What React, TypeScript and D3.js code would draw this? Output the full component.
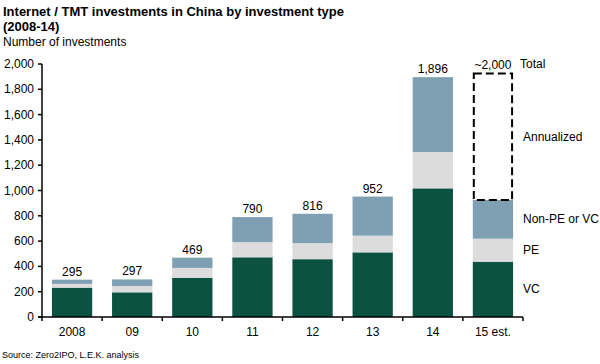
import React from 'react';
import * as d3 from 'd3';

const years = ['2008', '09', '10', '11', '12', '13', '14', '15 est.'];
const vc = [232, 195, 310, 472, 457, 511, 1017, 437];
const pe = [30, 50, 78, 120, 127, 132, 287, 182];
const nonPeVc = [33, 52, 81, 198, 232, 309, 592, 306];
const totalLabels = ['295', '297', '469', '790', '816', '952', '1,896', '~2,000'];
const annualizedTotal = 1925;
const yTicks = [0, 200, 400, 600, 800, 1000, 1200, 1400, 1600, 1800, 2000];

const colors = { vc: '#0b5240', pe: '#dcdcdc', non: '#7f9fb3' };
const font = 'Liberation Sans, Arial, sans-serif';

const App = () => {
  const width = 600;
  const height = 364;
  const left = 42;
  const right = 523;
  const top = 64;
  const bottom = 317;

  const x = d3.scaleBand<string>().domain(years).range([left, right]).paddingInner(0.33).paddingOuter(0.165);
  const y = d3.scaleLinear().domain([0, 2000]).range([bottom, top]);

  // stack the three series
  const rows = years.map((yr, i) => ({ yr, vc: vc[i], pe: pe[i], non: nonPeVc[i] }));
  const stack = d3.stack<any>().keys(['vc', 'pe', 'non'])(rows);

  const step = x.step();
  const last = years.length - 1;
  const lastBar = stack.map(s => s[last]);
  const labelX = right;

  return (
    <svg width={width} height={height} style={{ position: 'absolute', left: 0, top: 0 }} fontFamily={font}>
      <rect width={width} height={height} fill="#fff" />
      <text x={3} y={16} fontSize={13} fontWeight="bold">Internet / TMT investments in China by investment type</text>
      <text x={3} y={31} fontSize={13} fontWeight="bold">(2008-14)</text>
      <text x={3} y={46} fontSize={12}>Number of investments</text>

      {stack.map(series => (
        <g key={series.key} fill={colors[series.key as keyof typeof colors]}>
          {series.map((d, i) => (
            <rect key={i} x={x(years[i])} width={x.bandwidth()} y={y(d[1])} height={y(d[0]) - y(d[1])} />
          ))}
        </g>
      ))}

      {/* annualized dashed box */}
      <rect
        x={x(years[last])! + 1}
        width={x.bandwidth() - 2}
        y={y(annualizedTotal)}
        height={y(lastBar[2][1]) - y(annualizedTotal)}
        fill="none"
        stroke="#000"
        strokeWidth={2}
        strokeDasharray="8,4"
      />

      {totalLabels.map((t, i) => {
        const topVal = i === last ? annualizedTotal : stack[2][i][1];
        return (
          <text key={t} x={x(years[i])! + x.bandwidth() / 2} y={y(topVal) - 4} fontSize={12} textAnchor="middle">{t}</text>
        );
      })}

      {/* y axis */}
      <line x1={left} x2={left} y1={top} y2={bottom} stroke="#000" strokeWidth={1.5} />
      {yTicks.map(t => (
        <g key={t}>
          <line x1={left - 4} x2={left} y1={y(t)} y2={y(t)} stroke="#000" strokeWidth={1.5} />
          <text x={34} y={y(t) + 4} fontSize={12} textAnchor="end">{d3.format(',')(t)}</text>
        </g>
      ))}

      {/* x axis */}
      <line x1={left - 4} x2={right} y1={bottom} y2={bottom} stroke="#000" strokeWidth={1.5} />
      {d3.range(years.length + 1).map(k => (
        <line key={k} x1={left + k * step} x2={left + k * step} y1={bottom} y2={bottom + 4} stroke="#000" strokeWidth={1.5} />
      ))}
      {years.map(yr => (
        <text key={yr} x={x(yr)! + x.bandwidth() / 2} y={336} fontSize={12} textAnchor="middle">{yr}</text>
      ))}

      {/* right-side legend */}
      <text x={labelX - 3} y={y(2000) + 4} fontSize={12}>Total</text>
      <text x={labelX} y={y((lastBar[2][1] + annualizedTotal) / 2) + 4} fontSize={12}>Annualized</text>
      <text x={labelX} y={y((lastBar[2][0] + lastBar[2][1]) / 2) + 4} fontSize={12}>Non-PE or VC</text>
      <text x={labelX} y={y((lastBar[1][0] + lastBar[1][1]) / 2) + 4} fontSize={12}>PE</text>
      <text x={labelX} y={y((lastBar[0][0] + lastBar[0][1]) / 2) + 4} fontSize={12}>VC</text>

      <text x={2} y={358} fontSize={9}>Source: Zero2IPO, L.E.K. analysis</text>
    </svg>
  );
};

export default App;
